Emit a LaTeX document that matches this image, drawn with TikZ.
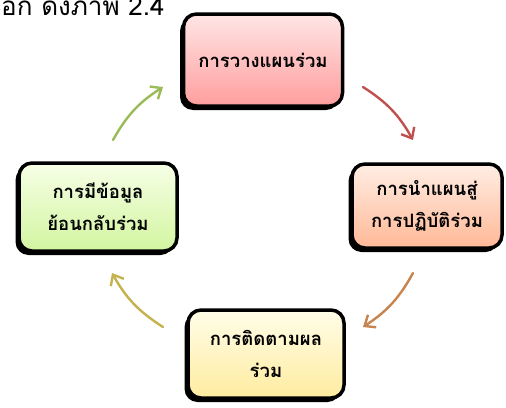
\documentclass[tikz,border=0pt]{standalone}
\usepackage{fontspec}
\newfontfamily\thaifont[Script=Thai]{Loma}
\usetikzlibrary{shadows,arrows.meta}
\definecolor{arrRed}{HTML}{C0504D}
\definecolor{arrBrown}{HTML}{C8844E}
\definecolor{arrOlive}{HTML}{C4B24E}
\definecolor{arrGreen}{HTML}{9BBB59}
\tikzset{
  box/.style={draw=black, line width=3.5pt, rounded corners=13pt, align=center,
    font=\thaifont\bfseries\fontsize{18.5}{32}\selectfont,
    drop shadow={shadow xshift=-3.5pt, shadow yshift=-4pt, fill=black, opacity=1}},
  cyc/.style={line width=2.4pt, line cap=round, -{Straight Barb[length=9pt,width=15pt,line width=2.4pt]}},
}
\begin{document}
\begin{tikzpicture}[x=1pt,y=-1pt]
\useasboundingbox (0,0) rectangle (506,407);
\clip (0,0) rectangle (506,407);
\node[anchor=base west, inner sep=0pt, font=\thaifont\fontsize{26}{30}\selectfont] (head) at (1,15) {อีก ดังภาพ 2.4};
\node[box, minimum width=159pt, minimum height=92pt, top color=red!10, bottom color=red!38] (plan) at (263,60) {การวางแผนร่วม};
\node[box, minimum width=150pt, minimum height=84pt, top color={rgb,255:red,255;green,238;blue,228}, bottom color={rgb,255:red,255;green,184;blue,150}] (act) at (427,206) {การนำแผนสู่\\การปฏิบัติร่วม};
\node[box, minimum width=156pt, minimum height=88pt, top color={rgb,255:red,255;green,253;blue,232}, bottom color={rgb,255:red,255;green,236;blue,160}] (track) at (266,354) {การติดตามผล\\ร่วม};
\node[box, minimum width=158pt, minimum height=88pt, top color={rgb,255:red,246;green,255;blue,230}, bottom color={rgb,255:red,210;green,245;blue,160}] (feed) at (98,207) {การมีข้อมูล\\ย้อนกลับร่วม};
\coordinate (r1) at (363,87);  \coordinate (r2) at (413,140);
\coordinate (b1) at (413,273); \coordinate (b2) at (363,327);
\coordinate (o1) at (163,327); \coordinate (o2) at (112,273);
\coordinate (g1) at (113,140); \coordinate (g2) at (163,87);
\draw[cyc, arrRed] (r1) to[bend left=14] (r2);
\draw[cyc, arrBrown] (b1) to[bend left=14] (b2);
\draw[cyc, arrOlive] (o1) to[bend left=14] (o2);
\draw[cyc, arrGreen] (g1) to[bend left=14] (g2);
\end{tikzpicture}
\end{document}
